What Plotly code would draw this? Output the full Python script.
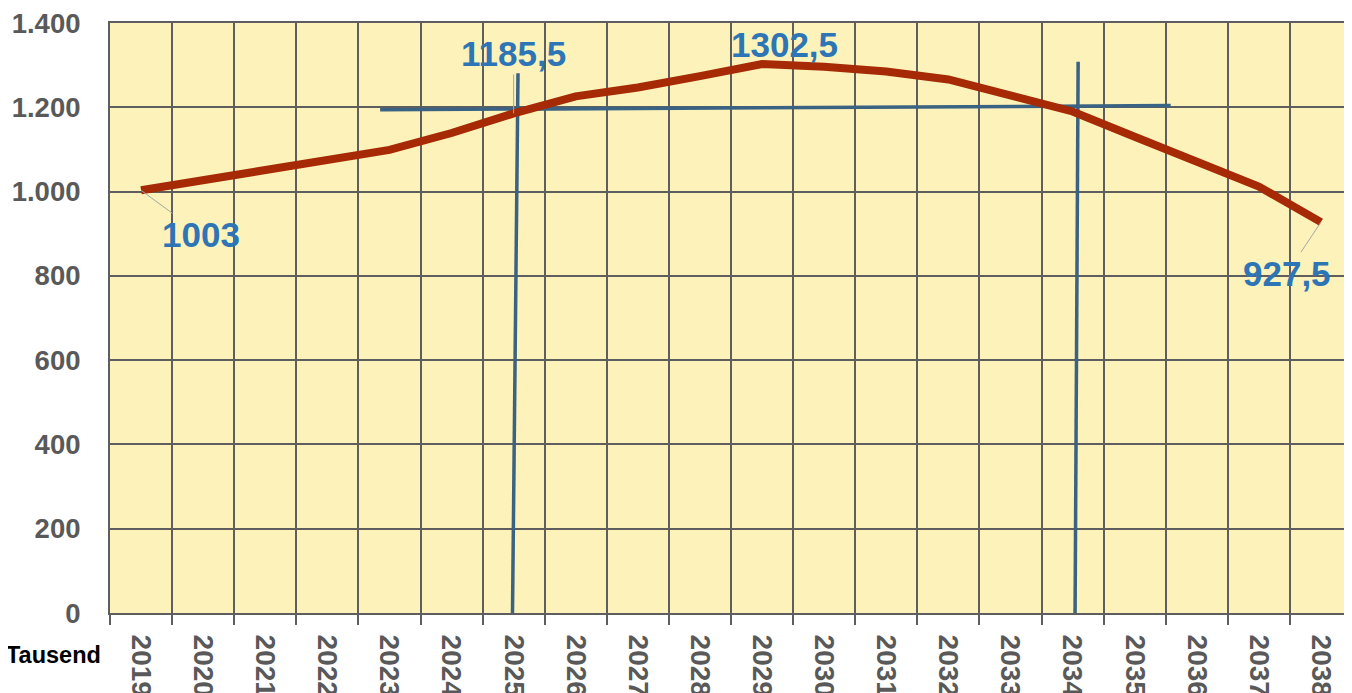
import plotly.graph_objects as go

# ---- data ----
years = [str(y) for y in range(2019, 2039)]
values = [1003, 1026, 1049, 1075, 1099, 1139, 1185.5, 1226, 1247, 1274,
          1302.5, 1296, 1285, 1266, 1229, 1190, 1130, 1071, 1012, 927.5]
y_ticks = [0, 200, 400, 600, 800, 1000, 1200, 1400]

# hand-drawn reference lines (x in category index units, y in data units)
ref_h_x = [3.85, 16.58]
ref_h_y = [1194, 1204]
ref_v1_x = [6.07, 5.98]
ref_v1_y = [1281, -20]
ref_v2_x = [15.09, 15.04]
ref_v2_y = [1308, -20]

# labelled points
label_idx = [0, 6, 10, 19]
label_txt = ["1003", "1185,5", "1302,5", "927,5"]

idx = list(range(len(years)))
boundaries = [i - 0.5 for i in range(len(years) + 1)]

FONT = "Liberation Sans, Arial, sans-serif"
GRID = "#5E5E5E"
BLUE_TXT = "#2E75B6"
REF = "#3A6282"

fig = go.Figure()

for rx, ry in [(ref_h_x, ref_h_y), (ref_v1_x, ref_v1_y), (ref_v2_x, ref_v2_y)]:
    fig.add_trace(go.Scatter(x=rx, y=ry, mode="lines",
                             line=dict(color=REF, width=3.5),
                             hoverinfo="skip", showlegend=False))

fig.add_trace(go.Scatter(x=idx, y=values, mode="lines",
                         line=dict(color="#A52A05", width=8),
                         showlegend=False))

# annotations with offsets (ax, ay) in pixels
offsets = {0: (60, 44, True), 6: (0, -60, True), 10: (22, -20, False), 19: (-34, 51, True)}
for i, t in zip(label_idx, label_txt):
    ax, ay, arrow = offsets[i]
    if arrow:
        fig.add_annotation(x=i, y=values[i], text="<b>%s</b>" % t, showarrow=True,
                           ax=ax, ay=ay, arrowhead=0, arrowwidth=1,
                           arrowcolor="#A6A6A6", standoff=0,
                           font=dict(family=FONT, size=35, color=BLUE_TXT))
    else:
        fig.add_annotation(x=i, y=values[i], text="<b>%s</b>" % t, showarrow=False,
                           xshift=ax, yshift=-ay,
                           font=dict(family=FONT, size=35, color=BLUE_TXT))

fig.add_annotation(x=-0.0057, y=-0.071, xref="paper", yref="paper",
                   xanchor="right", yanchor="middle", showarrow=False,
                   text="<b>Tausend</b>",
                   font=dict(family=FONT, size=23.5, color="#000000"))

fig.update_layout(
    width=1344, height=685,
    margin=dict(l=102, r=0, t=15, b=80),
    paper_bgcolor="white",
    plot_bgcolor="#FCF2BA",
    separators=",.",
    font=dict(family=FONT),
    xaxis=dict(
        range=[-0.5, len(years) - 0.5],
        tickmode="array", tickvals=idx, ticktext=["<b>%s</b>" % y for y in years],
        tickangle=90, ticks="", showgrid=False, zeroline=False,
        tickfont=dict(family=FONT, size=28, color="#595959"),
        ticklabelstandoff=14,
        showline=True, linecolor=GRID, linewidth=2, mirror=True,
        automargin=False,
        minor=dict(tickmode="array", tickvals=boundaries, ticks="outside",
                   ticklen=10, tickwidth=2, tickcolor=GRID,
                   showgrid=True, gridcolor=GRID, gridwidth=2),
    ),
    yaxis=dict(
        range=[0, 1400], tickmode="array", tickvals=y_ticks,
        ticktext=["<b>%s</b>" % f"{v:,}".replace(",", ".") for v in y_ticks],
        showgrid=True, gridcolor=GRID, gridwidth=2, zeroline=False,
        tickfont=dict(family=FONT, size=27.5, color="#595959"),
        ticklabelstandoff=22, ticklabeloverflow="allow",
        showline=True, linecolor=GRID, linewidth=2, mirror=True,
        automargin=False,
    ),
)

fig.write_html("out.html")
